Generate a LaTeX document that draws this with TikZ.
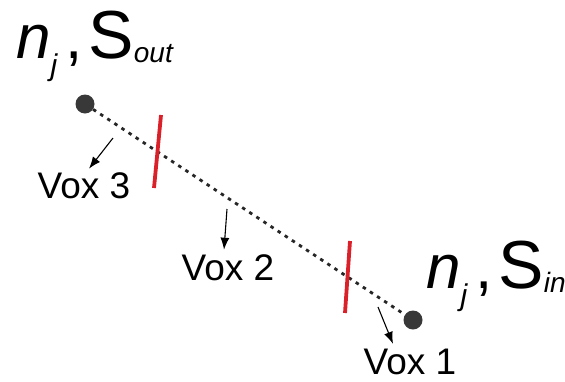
\documentclass[tikz,border=0pt]{standalone}
\usepackage{fontspec}
\setmainfont{Liberation Sans}
\usetikzlibrary{arrows.meta,positioning}

\newcommand{\nlabel}[1]{{\fontsize{62}{62}\selectfont\itshape n}\raisebox{-17pt}{\fontsize{30}{30}\selectfont\itshape j}\hspace{8pt}{\fontsize{62}{62}\selectfont,}\hspace{6pt}{\fontsize{68}{68}\selectfont S}\raisebox{-4pt}{\fontsize{28}{28}\selectfont\itshape #1}}

\begin{document}
\begin{tikzpicture}[x=1pt, y=-1pt,
                point/.style={circle, fill=black!78, inner sep=0pt, minimum size=19pt},
                vox/.style={inner sep=0pt, font=\fontsize{37}{37}\selectfont},
                lbl/.style={inner sep=0pt, anchor=base west},
                wall/.style={line width=3.8pt, draw={rgb,255:red,218;green,32;blue,40}},
                ray/.style={line width=2.8pt, dash pattern=on 3.5pt off 5pt, black!85},
                drop/.style={-{Latex[length=12pt,width=9pt]}, line width=1.1pt}
            ]
                \useasboundingbox (0,0) rectangle (565,381);

                % end points of the ray
                \node[point] (pout) at (85,104) {};
                \node[point] (pin) at (413,320) {};
                \draw[ray] (pout) -- (pin);

                \node[lbl] (lout) at (16,58) {\nlabel{out}};
                \node[lbl] (lin) at (426,288) {\nlabel{in}};

                % voxel borders
                \draw[wall] (161,115) -- (154,188);
                \draw[wall] (350,241) -- (345,313);

                % voxels
                \node[vox] (v3) at (84,186) {Vox 3};
                \node[vox] (v2) at (228,268) {Vox 2};
                \node[vox] (v1) at (410,362) {Vox 1};

                \coordinate (t3) at (113,138);
                \coordinate (t2) at (227,209);
                \coordinate (t1) at (378,307);
                \draw[drop] (t3) -- ([xshift=5pt, yshift=4pt]v3.north);
                \draw[drop] (t2) -- ([xshift=-4pt, yshift=5pt]v2.north);
                \draw[drop] (t1) -- ([xshift=-17pt, yshift=5pt]v1.north);
            \end{tikzpicture}
\end{document}
